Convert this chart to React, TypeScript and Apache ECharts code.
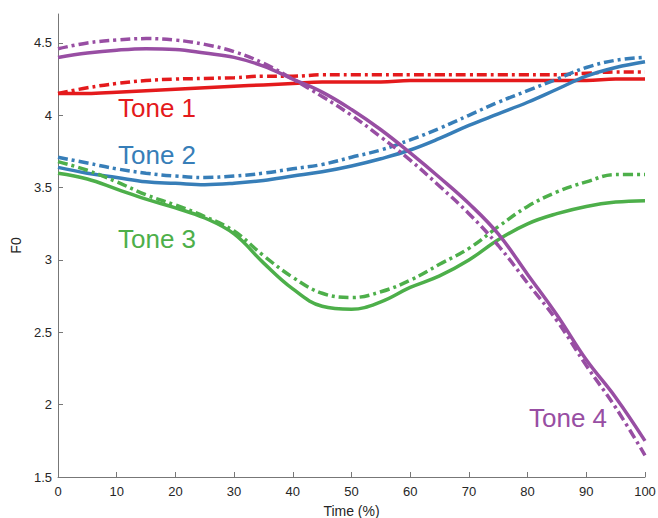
import React, { useEffect, useRef } from "react";
import * as echarts from "echarts";

const xs = [0, 5, 10, 15, 20, 25, 30, 35, 40, 45, 50, 55, 60, 65, 70, 75, 80, 85, 90, 95, 100];

const tone1Solid = [4.15, 4.15, 4.16, 4.17, 4.18, 4.19, 4.2, 4.21, 4.22, 4.23, 4.23, 4.23, 4.24, 4.24, 4.24, 4.24, 4.24, 4.24, 4.24, 4.25, 4.25];
const tone1Dash = [4.15, 4.19, 4.22, 4.24, 4.25, 4.255, 4.26, 4.27, 4.27, 4.28, 4.28, 4.28, 4.28, 4.28, 4.28, 4.28, 4.28, 4.28, 4.29, 4.3, 4.3];
const tone2Solid = [3.64, 3.6, 3.57, 3.54, 3.53, 3.52, 3.53, 3.55, 3.58, 3.61, 3.65, 3.7, 3.76, 3.84, 3.93, 4.01, 4.09, 4.18, 4.27, 4.33, 4.37];
const tone2Dash = [3.71, 3.67, 3.63, 3.6, 3.58, 3.57, 3.58, 3.6, 3.63, 3.66, 3.71, 3.76, 3.83, 3.91, 4.0, 4.09, 4.17, 4.25, 4.33, 4.38, 4.4];
const tone3Solid = [3.6, 3.56, 3.49, 3.42, 3.36, 3.29, 3.18, 2.98, 2.8, 2.68, 2.66, 2.71, 2.81, 2.89, 3.0, 3.14, 3.25, 3.32, 3.37, 3.4, 3.41];
const tone3Dash = [3.68, 3.62, 3.54, 3.45, 3.38, 3.3, 3.2, 3.03, 2.88, 2.77, 2.74, 2.78, 2.86, 2.97, 3.08, 3.23, 3.37, 3.47, 3.54, 3.59, 3.59];
const tone4Solid = [4.4, 4.43, 4.45, 4.46, 4.455, 4.43, 4.4, 4.34, 4.25, 4.16, 4.04, 3.9, 3.74, 3.57, 3.39, 3.18, 2.9, 2.62, 2.31, 2.05, 1.75];
const tone4Dash = [4.46, 4.5, 4.52, 4.53, 4.52, 4.49, 4.44, 4.36, 4.25, 4.13, 4.0, 3.85, 3.69, 3.51, 3.32, 3.1, 2.84, 2.58, 2.27, 1.98, 1.65];

const xTicks = [0, 10, 20, 30, 40, 50, 60, 70, 80, 90, 100];
const yTicks = [1.5, 2, 2.5, 3, 3.5, 4, 4.5];

const toneNames = ["Tone 1", "Tone 2", "Tone 3", "Tone 4"];
const toneColors = ["#e41a1c", "#377eb8", "#4daf4a", "#984ea3"];

const pairs = (ys: number[]) => xs.map((x, i) => [x, ys[i]]);

export default function App() {
  const ref = useRef<HTMLDivElement>(null);
  useEffect(() => {
    document.body.style.margin = "0";
    const chart = echarts.init(ref.current!, null, { renderer: "svg" });
    const solids = [tone1Solid, tone2Solid, tone3Solid, tone4Solid];
    const dashes = [tone1Dash, tone2Dash, tone3Dash, tone4Dash];
    const series: any[] = [];
    solids.forEach((d, i) => {
      series.push({
        type: "line",
        name: toneNames[i] + " solid",
        data: pairs(d),
        smooth: 0.4,
        showSymbol: false,
        lineStyle: { color: toneColors[i], width: 3.5, type: "solid" },
      });
      series.push({
        type: "line",
        name: toneNames[i] + " dash",
        data: pairs(dashes[i]),
        smooth: 0.4,
        showSymbol: false,
        lineStyle: { color: toneColors[i], width: 3.5, type: [10, 4, 3, 4] },
      });
    });
    const labelFont = "Liberation Sans, Arial, sans-serif";
    const tickColor = "#262626";
    chart.setOption({
      animation: false,
      backgroundColor: "#ffffff",
      grid: { left: 58, right: 13, top: 14, bottom: 41, containLabel: false, outerBoundsMode: "none" },
      xAxis: {
        type: "value",
        min: 0,
        max: 100,
        interval: 10,
        name: "Time (%)",
        nameLocation: "middle",
        nameGap: 27,
        nameTextStyle: { color: tickColor, fontSize: 14, fontFamily: labelFont },
        axisLine: { show: true, lineStyle: { color: "#777777", width: 1 } },
        axisTick: { show: true, inside: true, length: 5, lineStyle: { color: "#777777" } },
        axisLabel: { color: tickColor, fontSize: 13, margin: 8, fontFamily: labelFont, customValues: xTicks },
        splitLine: { show: false },
      },
      yAxis: {
        type: "value",
        min: 1.5,
        max: 4.7,
        name: "F0",
        nameLocation: "middle",
        nameGap: 31,
        nameTextStyle: { color: tickColor, fontSize: 14, fontFamily: labelFont },
        axisLine: { show: true, lineStyle: { color: "#777777", width: 1 } },
        axisTick: { show: true, inside: true, length: 5, lineStyle: { color: "#777777" }, customValues: yTicks },
        axisLabel: { color: tickColor, fontSize: 13, margin: 6, fontFamily: labelFont, customValues: yTicks },
        splitLine: { show: false },
      },
      graphic: [
        { type: "text", left: 118, top: 95, style: { text: toneNames[0], fill: toneColors[0], fontSize: 26, fontFamily: labelFont } },
        { type: "text", left: 118, top: 142, style: { text: toneNames[1], fill: toneColors[1], fontSize: 26, fontFamily: labelFont } },
        { type: "text", left: 118, top: 226, style: { text: toneNames[2], fill: toneColors[2], fontSize: 26, fontFamily: labelFont } },
        { type: "text", left: 529, top: 405, style: { text: toneNames[3], fill: toneColors[3], fontSize: 26, fontFamily: labelFont } },
      ],
      series,
    });
    return () => chart.dispose();
  }, []);
  return <div ref={ref} style={{ width: 658, height: 518 }} />;
}
